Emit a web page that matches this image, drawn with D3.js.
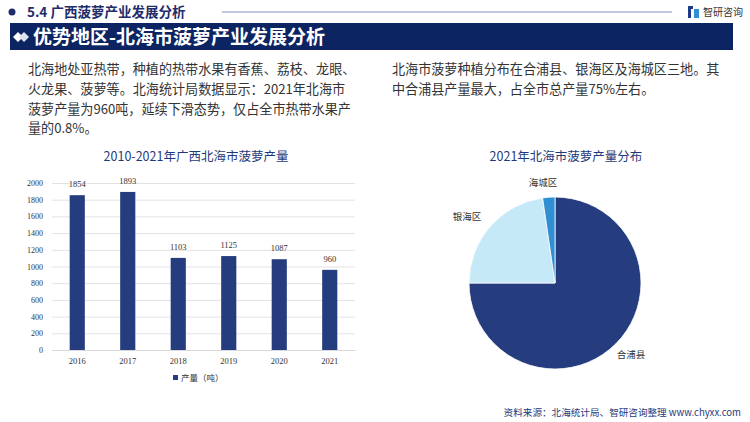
<!DOCTYPE html>
<html><head><meta charset="utf-8">
<script src="https://cdn.jsdelivr.net/npm/d3@7/dist/d3.min.js"></script>
<style>body{margin:0;background:#fff;}svg{display:block;}</style>
</head><body>
<svg id="c" width="750" height="422"></svg>
<script>
const years = ["2016","2017","2018","2019","2020","2021"];
const output = [1854,1893,1103,1125,1087,960];
const yTicks = [0,200,400,600,800,1000,1200,1400,1600,1800,2000];
const regions = ["合浦县","银海区","海城区"];
const shares = [75,22.7,2.3];
const regionColors = ["#253d7f","#c6e9f8","#2f8fd2"];

const svg = d3.select("#c");
const sans = "'Noto Sans CJK SC','Noto Sans',sans-serif";
const navy = "#0c2461";

// header
svg.append("circle").attr("cx",12).attr("cy",12).attr("r",3.5).attr("fill","#1f2d6b");
svg.append("text").attr("x",27).attr("y",17).attr("font-family",sans).attr("font-weight","bold")
  .attr("font-size",13.5).attr("fill","#1f2d6b").text("5.4 广西菠萝产业发展分析");
svg.append("line").attr("x1",222).attr("x2",672).attr("y1",12).attr("y2",12).attr("stroke","#aab6d6").attr("stroke-width",1.5);
// logo
const lg = svg.append("g").attr("transform","translate(688,6)");
lg.append("rect").attr("x",0).attr("y",0).attr("width",5).attr("height",3).attr("fill","#1e3a8a");
lg.append("rect").attr("x",0).attr("y",0).attr("width",3).attr("height",12).attr("fill","#1e3a8a");
lg.append("rect").attr("x",6).attr("y",3).attr("width",5).attr("height",9).attr("fill","#2f8fd2");
svg.append("text").attr("x",703).attr("y",16).attr("font-family",sans).attr("font-size",10).attr("fill","#333").text("智研咨询");

// banner
svg.append("rect").attr("x",10).attr("y",23).attr("width",723).attr("height",27).attr("fill",navy);
svg.append("path").attr("d","M13,37 L18,32 L23,37 L18,42 Z").attr("fill","#fff");
svg.append("path").attr("d","M19,37 L24,32 L29,37 L24,42 Z").attr("fill","#dfe3ee");
svg.append("text").attr("x",33).attr("y",44).attr("font-family",sans).attr("font-weight","bold")
  .attr("font-size",19).attr("fill","#fff").text("优势地区-北海市菠萝产业发展分析");

// paragraphs
const leftLines = ["北海地处亚热带，种植的热带水果有香蕉、荔枝、龙眼、","火龙果、菠萝等。北海统计局数据显示：2021年北海市","菠萝产量为960吨，延续下滑态势，仅占全市热带水果产","量的0.8%。"];
const rightLines = ["北海市菠萝种植分布在合浦县、银海区及海城区三地。其","中合浦县产量最大，占全市总产量75%左右。"];
leftLines.forEach((t,i)=>svg.append("text").attr("x",28).attr("y",74+i*19.8).attr("font-family",sans)
  .attr("font-size",13.1).attr("fill","#333").text(t));
rightLines.forEach((t,i)=>svg.append("text").attr("x",392).attr("y",74+i*19.8).attr("font-family",sans)
  .attr("font-size",13.1).attr("fill","#333").text(t));

// bar chart
svg.append("text").attr("x",196).attr("y",161).attr("text-anchor","middle").attr("font-family",sans)
  .attr("font-size",12.5).attr("fill","#1f3a7a").text("2010-2021年广西北海市菠萝产量");
const x = d3.scaleBand().domain(years).range([52,355]).paddingInner(0.7).paddingOuter(0.35);
const y = d3.scaleLinear().domain([0,2000]).range([350,183]);
const serif = "'Liberation Serif','DejaVu Serif',serif";
const yAxis = svg.append("g").attr("transform","translate(52,0)")
  .call(d3.axisLeft(y).tickValues(yTicks).tickFormat(d3.format("d")).tickSize(-303).tickPadding(9));
yAxis.select(".domain").remove();
yAxis.selectAll(".tick line").attr("stroke","#e3e3e3");
yAxis.selectAll(".tick text").attr("font-family",serif).attr("font-size",8).attr("fill","#333");
const xAxis = svg.append("g").attr("transform","translate(0,350)").call(d3.axisBottom(x).tickSize(0).tickPadding(8));
xAxis.select(".domain").attr("stroke","#d9d9d9");
xAxis.selectAll(".tick text").attr("font-family",serif).attr("font-size",8.5).attr("fill","#333");
svg.append("g").selectAll("rect").data(output).join("rect")
  .attr("x",(d,i)=>x(years[i])).attr("width",x.bandwidth())
  .attr("y",d=>y(d)).attr("height",d=>350-y(d)).attr("fill","#253d7f");
svg.append("g").selectAll("text").data(output).join("text")
  .attr("x",(d,i)=>x(years[i])+x.bandwidth()/2).attr("y",d=>y(d)-8).attr("text-anchor","middle")
  .attr("font-family",serif).attr("font-size",8.5).attr("fill","#333").text(d=>d);
svg.append("rect").attr("x",173).attr("y",375).attr("width",5).attr("height",5).attr("fill","#253d7f");
svg.append("text").attr("x",181).attr("y",381).attr("font-family",sans).attr("font-size",8.5).attr("fill","#333").text("产量（吨）");

// pie chart
svg.append("text").attr("x",566).attr("y",161).attr("text-anchor","middle").attr("font-family",sans)
  .attr("font-size",12.5).attr("fill","#1f3a7a").text("2021年北海市菠萝产量分布");
const cx=555, cy=283, r=86;
const pie = d3.pie().sort(null).value(d=>d)(shares);
const arc = d3.arc().innerRadius(0).outerRadius(r);
const pg = svg.append("g").attr("transform",`translate(${cx},${cy})`);
pg.selectAll("path").data(pie).join("path").attr("d",arc)
  .attr("fill",(d,i)=>regionColors[i]).attr("stroke","#fff").attr("stroke-width",0.8);
const labelPos = [[631,358],[467,220],[543,186]];
regions.forEach((t,i)=>svg.append("text").attr("x",labelPos[i][0]).attr("y",labelPos[i][1])
  .attr("text-anchor","middle").attr("font-family",sans).attr("font-size",9.5).attr("fill","#333").text(t));

// source
svg.append("text").attr("x",741).attr("y",416).attr("text-anchor","end").attr("font-family",sans)
  .attr("font-size",9.6).attr("fill","#1f3a7a").text("资料来源：北海统计局、智研咨询整理  www.chyxx.com");
</script>
</body></html>
